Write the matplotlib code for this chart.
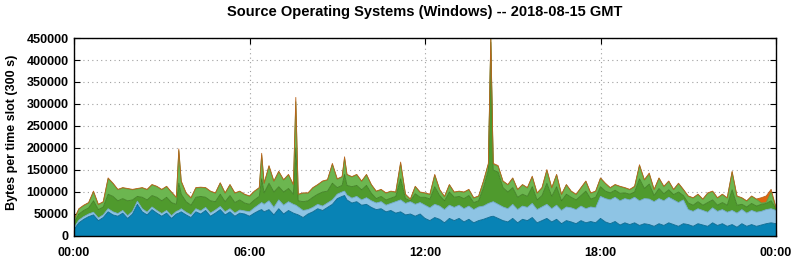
import numpy as np
import matplotlib
matplotlib.use("Agg")
import matplotlib.pyplot as plt

# Time slots (minutes after 00:00): 10-min grid plus the sharp single-slot spikes
grid_minutes = list(range(0, 1441, 10))
spike_minutes = [215, 385, 455, 555, 855]
slot_minutes = sorted(grid_minutes + spike_minutes)

# Cumulative layer tops, in thousands of bytes per 300 s slot
blue_top = [
    15, 30, 38, 44, 48, 35,
    42, 55, 48, 45, 52, 40,
    50, 72, 55, 48, 60, 52,
    45, 52, 40, 50, 52, 55, 48,
    42, 55, 50, 58, 45, 52,
    60, 48, 55, 45, 52, 50,
    45, 52, 58, 60, 55, 60, 48,
    62, 50, 58, 52, 50, 48, 42,
    50, 55, 62, 58, 65, 72,
    85, 90, 92, 82, 75, 78, 70,
    72, 65, 60, 62, 55, 58,
    52, 55, 48, 50, 45, 50,
    40, 35, 42, 38, 30, 40,
    35, 40, 32, 38, 30, 35,
    38, 42, 44, 45, 40, 35, 32,
    40, 30, 38, 35, 42, 30,
    35, 40, 32, 38, 28, 35,
    32, 28, 35, 30, 33, 30,
    40, 32, 28, 33, 25, 30,
    26, 30, 24, 28, 26, 22,
    28, 24, 30, 26, 22, 28,
    26, 22, 28, 25, 22, 30,
    24, 28, 22, 26, 20, 28,
    22, 26, 22, 25, 28, 30, 28,
]
lightblue_top = [
    19, 36, 44, 50, 54, 41,
    48, 62, 55, 51, 58, 46,
    56, 79, 62, 54, 66, 58,
    51, 58, 46, 56, 58, 62, 54,
    48, 62, 57, 65, 52, 59,
    67, 55, 62, 52, 59, 57,
    55, 64, 72, 76, 72, 80, 65,
    82, 70, 78, 72, 70, 66, 58,
    60, 65, 72, 68, 75, 82,
    95, 100, 102, 93, 86, 90, 82,
    87, 80, 75, 78, 70, 74,
    78, 82, 74, 78, 72, 76,
    70, 64, 72, 68, 60, 70,
    65, 70, 62, 68, 60, 66,
    68, 74, 76, 78, 72, 66, 62,
    72, 60, 68, 65, 74, 60,
    66, 72, 62, 70, 58, 66,
    64, 60, 68, 62, 66, 64,
    90, 85, 82, 88, 80, 85,
    82, 88, 80, 85, 84, 78,
    85, 80, 88, 82, 76, 82,
    60, 56, 62, 58, 54, 64,
    56, 60, 54, 58, 52, 60,
    52, 58, 54, 56, 60, 62, 58,
]
darkgreen_top = [
    30, 50, 58, 64, 80, 60,
    66, 95, 90, 80, 85, 80,
    82, 90, 88, 82, 92, 88,
    80, 88, 76, 72, 120, 95, 78,
    70, 88, 90, 88, 80, 78,
    95, 78, 92, 76, 82, 75,
    72, 82, 90, 130, 98, 120, 100,
    112, 100, 108, 95, 200, 80, 78,
    80, 88, 95, 100, 102, 120,
    110, 115, 140, 115, 112, 115, 105,
    115, 97, 85, 90, 82, 86,
    90, 130, 85, 80, 96, 88,
    88, 84, 112, 92, 80, 100,
    88, 90, 85, 92, 76, 80,
    110, 150, 440, 150, 145, 110, 100,
    110, 88, 95, 90, 112, 82,
    92, 120, 90, 112, 80, 95,
    88, 82, 92, 102, 84, 88,
    112, 102, 98, 104, 97, 98,
    95, 100, 130, 108, 118, 92,
    108, 96, 105, 94, 100, 92,
    75, 70, 78, 70, 76, 82,
    70, 76, 70, 105, 70, 72,
    66, 74, 68, 72, 74, 80, 62,
]
lightgreen_top = [
    37, 61, 69, 75, 100, 71,
    77, 130, 119, 105, 109, 107,
    105, 107, 109, 105, 116, 112,
    105, 112, 99, 87, 194, 123, 97,
    86, 109, 110, 109, 101, 97,
    120, 97, 116, 97, 101, 94,
    90, 101, 109, 184, 119, 158, 124,
    146, 127, 139, 116, 305, 94, 97,
    97, 109, 116, 124, 127, 162,
    129, 134, 177, 139, 134, 139, 124,
    139, 116, 101, 105, 97, 101,
    99, 165, 94, 83, 112, 99,
    97, 94, 138, 105, 89, 116,
    99, 101, 99, 105, 86, 90,
    124, 163, 448, 163, 158, 124, 116,
    131, 105, 116, 109, 134, 97,
    109, 149, 109, 139, 94, 116,
    101, 94, 109, 124, 97, 101,
    131, 119, 109, 116, 112, 109,
    105, 112, 160, 127, 141, 105,
    131, 112, 124, 105, 119, 105,
    90, 86, 94, 83, 97, 101,
    86, 94, 86, 145, 90, 86,
    79, 90, 83, 75, 76, 100, 64,
]
total_top = [
    38, 62, 70, 76, 102, 72,
    78, 132, 120, 106, 110, 108,
    106, 108, 110, 106, 117, 113,
    106, 113, 100, 88, 198, 125, 98,
    87, 110, 111, 110, 102, 98,
    121, 98, 117, 98, 102, 95,
    91, 102, 110, 188, 120, 160, 125,
    147, 128, 140, 117, 315, 95, 98,
    98, 110, 117, 125, 128, 165,
    130, 135, 180, 140, 135, 140, 125,
    140, 117, 102, 106, 98, 102,
    100, 168, 95, 84, 113, 100,
    98, 95, 140, 106, 90, 117,
    100, 102, 100, 106, 87, 91,
    125, 165, 455, 165, 160, 125, 117,
    132, 106, 117, 110, 136, 98,
    110, 151, 110, 140, 95, 117,
    102, 95, 110, 125, 98, 102,
    132, 120, 110, 117, 113, 110,
    106, 113, 162, 128, 143, 106,
    132, 113, 125, 106, 120, 106,
    91, 87, 95, 84, 98, 102,
    87, 95, 87, 147, 91, 87,
    80, 91, 84, 87, 91, 106, 65,
]

x_tick_minutes = [0, 360, 720, 1080, 1440]
x_tick_labels = ["00:00", "06:00", "12:00", "18:00", "00:00"]
y_ticks = [0, 50000, 100000, 150000, 200000, 250000, 300000, 350000, 400000, 450000]

title = "Source Operating Systems (Windows) -- 2018-08-15 GMT"
ylabel = "Bytes per time slot (300 s)"

plt.rcParams['font.family'] = ['Liberation Sans', 'DejaVu Sans']
plt.rcParams['font.weight'] = 'bold'

fig = plt.figure(figsize=(7.94, 2.60), dpi=100)
ax = fig.add_axes([74/794, 24/260, 702/794, 198/260])

x = np.array(slot_minutes)
layers = [np.zeros(len(x)),
          np.array(blue_top) * 1000,
          np.array(lightblue_top) * 1000,
          np.array(darkgreen_top) * 1000,
          np.array(lightgreen_top) * 1000,
          np.array(total_top) * 1000]
fills = ["#0883b5", "#8ec4e4", "#4f9a2d", "#6cb650", "#e0650f"]
edges = ["#06668e", "#6fa9cc", "#3f7f22", "#589a3c", "#b8641c"]

for i in range(5):
    ax.fill_between(x, layers[i], layers[i + 1], facecolor=fills[i],
                    edgecolor='none', linewidth=0, zorder=2 + i * 0.1)
for i in range(5):
    ax.plot(x, layers[i + 1], color=edges[i], linewidth=0.6, zorder=3)

ax.set_xlim(0, 1440)
ax.set_ylim(0, 450000)
ax.set_xticks(x_tick_minutes)
ax.set_xticklabels(x_tick_labels)
ax.set_yticks(y_ticks)
ax.set_yticklabels([str(v) for v in y_ticks])

ax.grid(True, color="#a0a0a0", linestyle=(0, (1, 3)), linewidth=0.8, zorder=1)
ax.set_axisbelow(True)
ax.tick_params(direction='in', length=4, width=0.8, top=True, right=True,
               labelsize=9, colors='black')
ax.tick_params(axis='x', pad=8)
ax.tick_params(axis='y', pad=4)
for lab in ax.get_xticklabels() + ax.get_yticklabels():
    lab.set_fontweight('bold')
for s in ax.spines.values():
    s.set_linewidth(1.0)
    s.set_zorder(5)

fig.text(425/794, 1 - 12/260, title, ha='center', va='center',
         fontsize=10.5, fontweight='bold')
fig.text(12/794, 1 - 132/260, ylabel, ha='center', va='center',
         rotation=90, fontsize=9, fontweight='bold')

fig.savefig("out.png", dpi=100)
